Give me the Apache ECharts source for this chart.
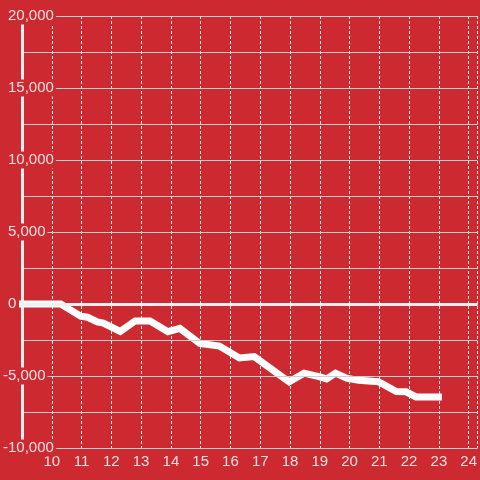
<!DOCTYPE html>
<html>
<head>
<meta charset="utf-8">
<script src="https://cdn.jsdelivr.net/npm/echarts@6/dist/echarts.min.js"></script>
<style>
html,body{margin:0;padding:0;background:#cc2a30;}
#c{width:480px;height:480px;}
</style>
</head>
<body>
<div id="c"></div>
<script>
var times = [8.9, 10.3, 10.97, 11.2, 11.53, 11.73, 12.3, 12.8, 13.3, 13.9, 14.3, 14.97, 15.63, 16.3, 16.8, 17.97, 18.47, 18.97, 19.23, 19.53, 19.9, 20.3, 20.97, 21.57, 21.9, 22.23, 23.1];
var values = [0, 0, -850, -920, -1250, -1320, -1900, -1180, -1180, -1920, -1690, -2740, -2920, -3750, -3650, -5400, -4800, -5050, -5200, -4800, -5150, -5300, -5400, -6080, -6100, -6450, -6450];
var yTickLabels = [20000, 15000, 10000, 5000, 0, -5000, -10000];

var BG = '#cc2a30';
var TXT = '#f5e0e0';
var FS = 15;
var chart = echarts.init(document.getElementById('c'));
var data = times.map(function (t, i) { return [t, values[i]]; });

chart.setOption({
  backgroundColor: BG,
  animation: false,
  grid: { left: 21, right: 0, top: 16, bottom: 32, containLabel: false },
  xAxis: {
    type: 'value', min: 9, max: 24.3, interval: 1,
    axisLine: { show: false },
    axisTick: { show: false },
    axisLabel: {
      color: TXT, fontSize: FS, fontFamily: 'Liberation Sans', margin: 6,
      showMaxLabel: false,
      formatter: function (v) { return (v >= 10 && v <= 24 && v === Math.round(v)) ? String(v) : ''; }
    },
    splitLine: { show: true, lineStyle: { color: '#ececec', width: 1, type: [3, 2] } }
  },
  yAxis: {
    type: 'value', min: -10000, max: 20000, interval: 2500,
    axisLine: { show: true, lineStyle: { color: '#eeeeee', width: 3 } },
    axisTick: { show: false },
    axisLabel: {
      align: 'left', margin: 19, fontSize: FS, fontFamily: 'Liberation Sans', color: TXT,
      backgroundColor: BG, padding: [1, 2, 1, 0],
      formatter: function (v) {
        if (yTickLabels.indexOf(v) < 0) return '';
        var s = echarts.format.addCommas(v);
        return v < 0 ? '{n|' + s + '}' : '{p|' + s + '}';
      },
      rich: {
        n: { color: TXT, fontSize: FS, fontFamily: 'Liberation Sans' },
        p: { color: TXT, fontSize: FS, fontFamily: 'Liberation Sans', padding: [0, 0, 0, 5] }
      }
    },
    splitLine: { show: true, lineStyle: { color: '#cfcfcf', width: 1 } },
    z: 5
  },
  series: [{
    type: 'line',
    data: data,
    clip: false,
    showSymbol: false,
    symbol: 'none',
    lineStyle: { color: '#ffffff', width: 7, join: 'miter' },
    markLine: {
      silent: true, symbol: 'none',
      label: { show: false },
      lineStyle: { color: '#f0f0f0', width: 3, type: 'solid' },
      data: [{ yAxis: 0 }]
    }
  }]
});
</script>
</body>
</html>
